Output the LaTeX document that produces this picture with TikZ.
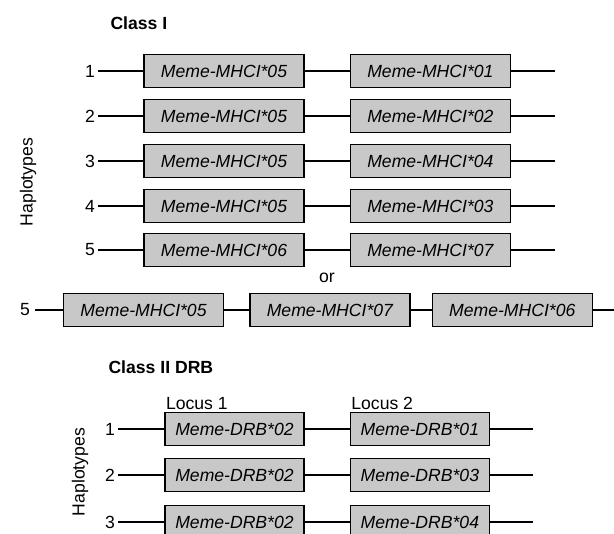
\documentclass[tikz,border=0pt]{standalone}
\usepackage{fontspec}
\setmainfont{Liberation Sans}
\usetikzlibrary{positioning}
\definecolor{allelegray}{RGB}{200,200,200}
\newcommand{\figfont}{\fontsize{17.6}{21}\selectfont}

\begin{document}
\begin{tikzpicture}[x=1pt, y=-1pt, node distance=45pt,
    every node/.style={font=\figfont},
    allele/.style={draw, fill=allelegray, line width=1.4pt, minimum height=33pt,
      inner sep=0pt, font=\figfont\itshape},
    mhc/.style={allele, minimum width=160pt},
    drb/.style={allele, minimum width=139pt},
    hapno/.style={inner sep=3pt},
    locus/.style={anchor=south west, inner sep=1.5pt},
    title/.style={anchor=west, font=\figfont\bfseries},
    strand/.style={line width=1.6pt}]
  \clip (0,0) rectangle (614,534);

  % class I
  \node[title] (c1) at (107,23) {Class I};
  \foreach \i/\y/\p/\q in {1/71/05/01, 2/116/05/02, 3/161/05/04, 4/206/05/03, 5/250/06/07} {
    \node[hapno] (n\i) at (90,\y) {\i};
    \node[mhc] (a\i) at (224,\y) {Meme-MHCI*\p};
    \node[mhc, right=of a\i] (b\i) {Meme-MHCI*\q};
    \coordinate (e\i) at (555,\y);
    \draw[strand] (n\i) -- (a\i) -- (b\i) -- (e\i);
  }
  \node[rotate=90] (h1) at (28,182) {Haplotypes};
  \node (or) at (327,278) {or};

  \node[hapno, inner sep=5pt] (n6) at (25,310) {5};
  \node[mhc] (x1) at (143.5,310) {Meme-MHCI*05};
  \node[mhc, right=25pt of x1] (x2) {Meme-MHCI*07};
  \node[mhc, right=21pt of x2] (x3) {Meme-MHCI*06};
  \coordinate (x4) at (614,310);
  \draw[strand] (n6) -- (x1) -- (x2) -- (x3) -- (x4);

  % class II DRB
  \node[title] (c2) at (105,367) {Class II DRB};
  \foreach \i/\y/\q in {1/429/01, 2/475/03, 3/522/04} {
    \node[hapno] (m\i) at (110,\y) {\i};
    \node[drb] (d\i) at (234.5,\y) {Meme-DRB*02};
    \node[drb, right=of d\i] (f\i) {Meme-DRB*\q};
    \coordinate (g\i) at (533,\y);
    \draw[strand] (m\i) -- (d\i) -- (f\i) -- (g\i);
  }
  \node[locus] (l1) at (d1.north west) {Locus 1};
  \node[locus] (l2) at (f1.north west) {Locus 2};
  \node[rotate=90] (h2) at (80,472) {Haplotypes};
\end{tikzpicture}
\end{document}
